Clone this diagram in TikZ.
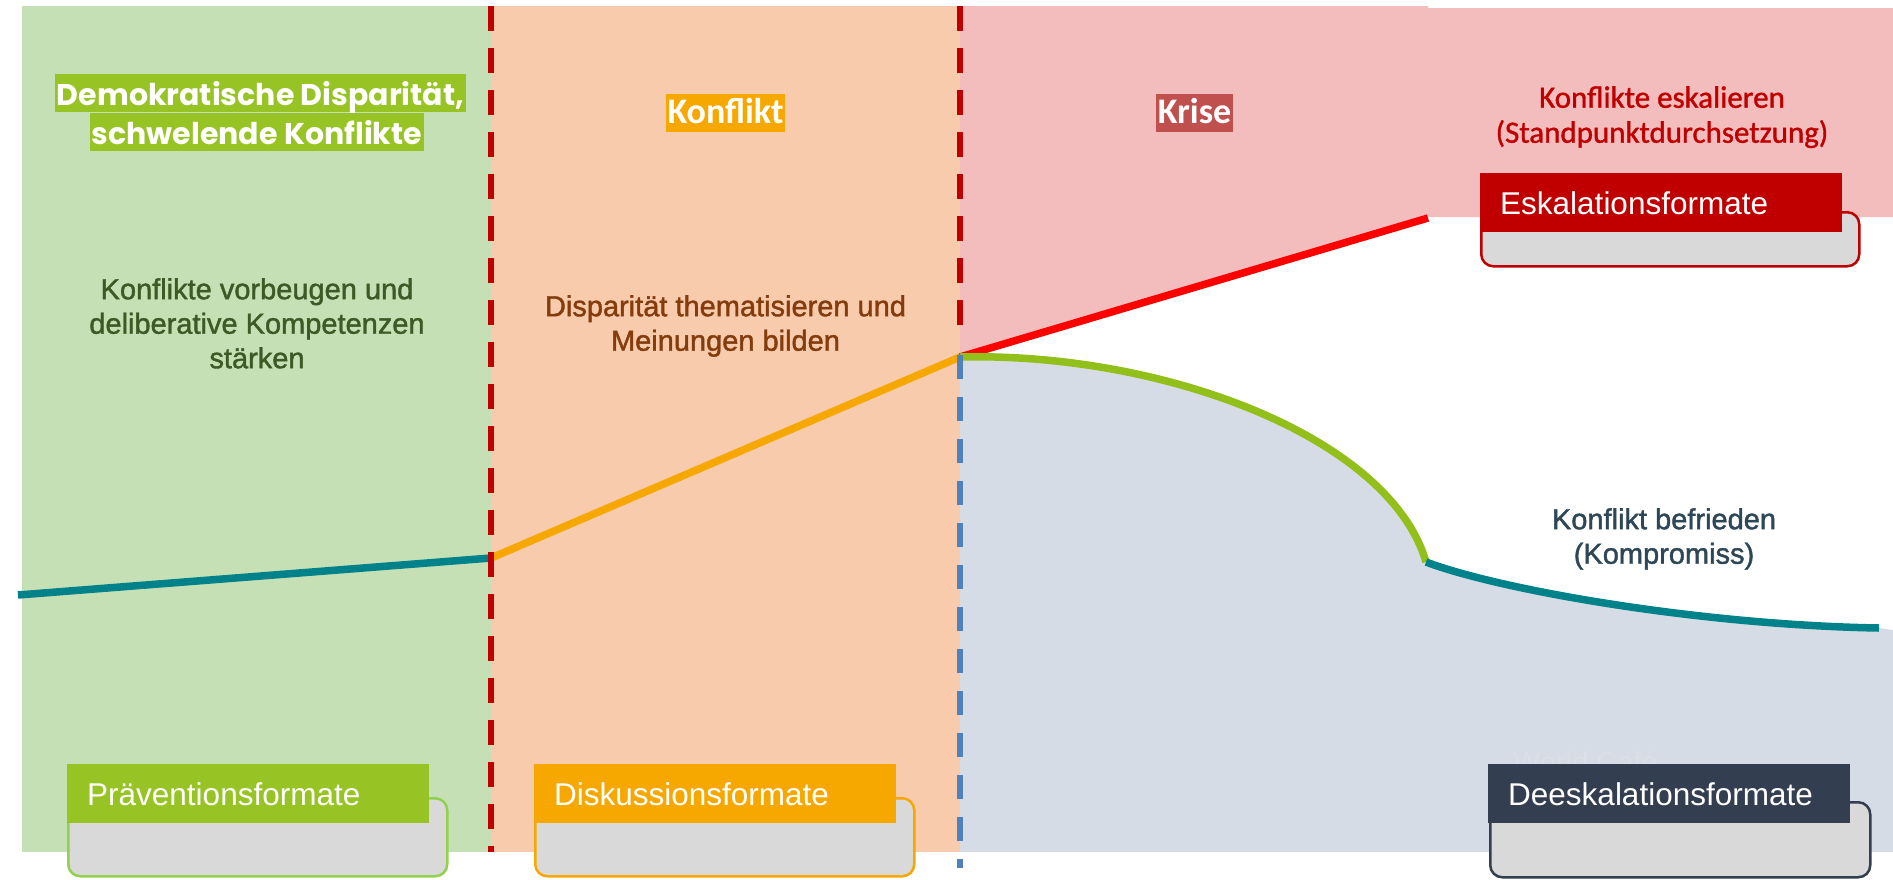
\documentclass[tikz,border=0pt]{standalone}
\usepackage{fontspec}
\setmainfont{Liberation Sans}
\newfontfamily\medfont[FakeBold=1.4]{Liberation Sans}
\newfontfamily\ralfont{Poppins}
\newfontfamily\calfont{Carlito}
\newfontfamily\calmedfont[FakeBold=1.2]{Carlito}
\definecolor{bggreen}{HTML}{C5E0B4}
\definecolor{bgpeach}{HTML}{F8CBAD}
\definecolor{bgpink}{HTML}{F3BCBD}
\definecolor{bgblue}{HTML}{D6DCE5}
\definecolor{tealline}{HTML}{00828A}
\definecolor{orangeline}{HTML}{F6A800}
\definecolor{greenline}{HTML}{93BF1B}
\definecolor{redline}{HTML}{FF0000}
\definecolor{darkred}{HTML}{C00000}
\definecolor{dashblue}{HTML}{4F81BD}
\definecolor{hlgreen}{HTML}{97C424}
\definecolor{hlorange}{HTML}{F7A800}
\definecolor{hlred}{HTML}{C0504D}
\definecolor{txtgreen}{HTML}{3D5A26}
\definecolor{txtbrown}{HTML}{843C0C}
\definecolor{txtslate}{HTML}{2E4756}
\definecolor{boxgray}{HTML}{D9D9D9}
\definecolor{bordergreen}{HTML}{92D050}
\definecolor{navy}{HTML}{333F50}
\definecolor{faintc}{HTML}{DADFE8}
\begin{document}
\begin{tikzpicture}[x=1pt,y=-1pt,
  curve/.style={line width=7.5pt},
  reddash/.style={darkred,line width=6pt,dash pattern=on 25pt off 17pt},
  bluedash/.style={dashblue,line width=6pt,dash pattern=on 24pt off 18pt},
  titlehl/.style={inner xsep=2pt,inner ysep=2pt,text height=29pt,text depth=5pt,text=white,font=\ralfont\bfseries\fontsize{30}{38}\selectfont},
  phasehl/.style={inner xsep=2pt,inner ysep=2pt,text height=27pt,text depth=7pt,text=white,font=\calfont\bfseries\fontsize{36}{40}\selectfont},
  para/.style={inner sep=0pt,align=center,anchor=north,font=\medfont\fontsize{29}{34.5}\selectfont},
  graybox/.style={fill=boxgray,line width=2.5pt,rounded corners=12pt,minimum width=379pt,minimum height=78pt,anchor=north west,inner sep=0pt},
  header/.style={anchor=north west,minimum width=362pt,minimum height=59pt,inner xsep=20pt,inner ysep=0pt,text width=322pt,align=left,text height=23pt,text depth=0pt,text=white,font=\fontsize{31.5}{36}\selectfont}
]
\useasboundingbox (0,0) rectangle (1893,879);
% backgrounds
\fill[bggreen] (22,6) rectangle (491,852);
\fill[bgpeach] (491,6) rectangle (960,852);
\fill[bgblue] (960,357) .. controls (1165,352) and (1390,438) .. (1426,562)
  .. controls (1500,590) and (1700,625) .. (1879,628) -- (1893,630) -- (1893,852) -- (960,852) -- cycle;
\fill[bgpink] (960,6) -- (1428,6) -- (1428,8) -- (1893,8) -- (1893,217) -- (1428,217) -- (960,357) -- cycle;
% key points
\coordinate (tl) at (18,595);
\coordinate (p1) at (491,558);
\coordinate (p2) at (960,357);
\coordinate (pe) at (1428,218);
\coordinate (knee) at (1426,562);
\coordinate (te) at (1879,628);
\coordinate (d1a) at (491,6);
\coordinate (d1b) at (491,852);
\coordinate (d2a) at (960,6);
\coordinate (d2b) at (960,340);
\coordinate (d3a) at (960,355);
\coordinate (d3b) at (960,868);
% curves
\draw[curve,tealline] (tl) -- (p1);
\draw[curve,orangeline] (p1) -- (p2);
\draw[curve,redline] (p2) -- (pe);
\draw[curve,greenline] (p2) .. controls (1165,352) and (1390,438) .. (knee);
\draw[curve,tealline] (knee) .. controls (1500,590) and (1700,625) .. (te);
% dashed separators
\draw[reddash] (d1a) -- (d1b);
\draw[reddash] (d2a) -- (d2b);
\draw[bluedash] (d3a) -- (d3b);
% phase titles
\node[titlehl,fill=hlgreen] (t1a) at (260.5,93) {Demokratische Disparität,};
\node[titlehl,fill=hlgreen] (t1b) at (257,132) {schwelende Konflikte};
\node[phasehl,fill=hlorange] (t2) at (725.5,113) {Konflikt};
\node[phasehl,fill=hlred] (t3) at (1194.5,113) {Krise};
\node[inner sep=0pt,align=center,anchor=north,text=darkred,font=\calmedfont\fontsize{31}{35}\selectfont] (t4) at (1662,86) {Konflikte eskalieren\\(Standpunktdurchsetzung)};
% descriptions
\node[para,text=txtgreen] (d1) at (257,278) {Konflikte vorbeugen und\\deliberative Kompetenzen\\stärken};
\node[para,text=txtbrown] (d2) at (725.5,295) {Disparität thematisieren und\\Meinungen bilden};
\node[para,text=txtslate] (d3) at (1664,508) {Konflikt befrieden\\(Kompromiss)};
% format boxes
\node[graybox,draw=bordergreen] (b1) at (67,797) {};
\node[header,fill=hlgreen] (h1) at (67,764) {Präventionsformate};
\node[graybox,draw=hlorange] (b2) at (534,797) {};
\node[header,fill=hlorange] (h2) at (534,764) {Diskussionsformate};
\node[anchor=base west,inner sep=0pt,text=faintc,font=\fontsize{29}{34}\selectfont] (wc) at (1513,772) {World Café};
\node[graybox,draw=navy,minimum width=380pt,minimum height=75pt] (b3) at (1489,801) {};
\node[header,fill=navy] (h3) at (1488,764) {Deeskalationsformate};
\node[graybox,draw=darkred,minimum width=378pt,minimum height=54pt] (b4) at (1480,211) {};
\node[header,fill=darkred,minimum width=361pt] (h4) at (1480,173) {Eskalationsformate};
\end{tikzpicture}
\end{document}
